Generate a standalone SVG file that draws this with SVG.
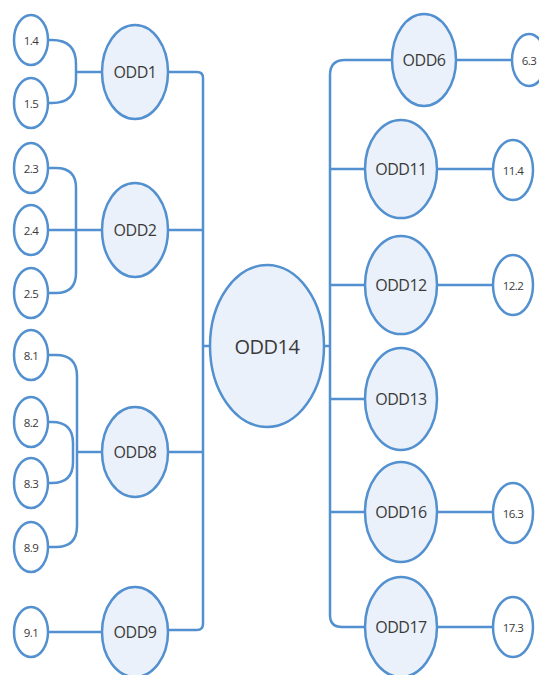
<svg xmlns="http://www.w3.org/2000/svg" width="539" height="675" viewBox="0 0 539 675">
<style>
.n{fill:#eaf1fa;stroke:#5290d0;stroke-width:2.5}
.s{fill:#ffffff;stroke:#5290d0;stroke-width:2.5}
.c{fill:none;stroke:#5290d0;stroke-width:2.5}
text{font-family:"Open Sans","Liberation Sans",sans-serif;fill:#3a3a3a;text-anchor:middle;dominant-baseline:central}
.t{font-size:16px;letter-spacing:-0.5px}
.b{font-size:20px;letter-spacing:-0.5px}
.m{font-size:11.5px;letter-spacing:-0.6px}
</style>
<rect width="539" height="675" fill="#ffffff"/>
<g id="connectors">
<path class="c" d="M48,40 H52 Q76,40 76,64 V79 Q76,103 52,103 H48"/>
<path class="c" d="M76,72 H102"/>
<path class="c" d="M48,168 H56 Q76,168 76,188 V273 Q76,293 56,293 H48"/>
<path class="c" d="M48,230 H102"/>
<path class="c" d="M48,355 H56 Q77,355 77,376 V526 Q77,547 56,547 H48"/>
<path class="c" d="M48,422 H52 Q73,422 73,443 V462 Q73,483 52,483 H48"/>
<path class="c" d="M77,452 H102"/>
<path class="c" d="M47,632 H102"/>
<path class="c" d="M168,72 H197 Q203,72 203,78 V624 Q203,630 197,630 H168"/>
<path class="c" d="M168,230 H203"/>
<path class="c" d="M168,452 H203"/>
<path class="c" d="M203,346 H210"/>
<path class="c" d="M392,60 H345 Q330,60 330,75 V615 Q330,627 342,627 H365"/>
<path class="c" d="M323,346 H330"/>
<path class="c" d="M330,169 H365"/>
<path class="c" d="M330,285 H365"/>
<path class="c" d="M330,399 H365"/>
<path class="c" d="M330,512 H365"/>
<path class="c" d="M456,60 H512"/>
<path class="c" d="M437,169 H493"/>
<path class="c" d="M437,285 H493"/>
<path class="c" d="M437,512 H493"/>
<path class="c" d="M437,627 H493"/>
</g>
<g id="n14"><ellipse class="s" cx="31" cy="40" rx="17" ry="25"/><text class="m" x="31" y="40">1.4</text></g>
<g id="n15"><ellipse class="s" cx="31" cy="103" rx="17" ry="25"/><text class="m" x="31" y="103">1.5</text></g>
<g id="n23"><ellipse class="s" cx="31" cy="168" rx="17" ry="25"/><text class="m" x="31" y="168">2.3</text></g>
<g id="n24"><ellipse class="s" cx="31" cy="230" rx="17" ry="25"/><text class="m" x="31" y="230">2.4</text></g>
<g id="n25"><ellipse class="s" cx="31" cy="293" rx="17" ry="25"/><text class="m" x="31" y="293">2.5</text></g>
<g id="n81"><ellipse class="s" cx="31" cy="355" rx="17" ry="25"/><text class="m" x="31" y="355">8.1</text></g>
<g id="n82"><ellipse class="s" cx="31" cy="422" rx="17" ry="25"/><text class="m" x="31" y="422">8.2</text></g>
<g id="n83"><ellipse class="s" cx="31" cy="483" rx="17" ry="25"/><text class="m" x="31" y="483">8.3</text></g>
<g id="n89"><ellipse class="s" cx="31" cy="547" rx="17" ry="25"/><text class="m" x="31" y="547">8.9</text></g>
<g id="n91"><ellipse class="s" cx="31" cy="632" rx="17" ry="25"/><text class="m" x="31" y="632">9.1</text></g>
<g id="odd1"><ellipse class="n" cx="135" cy="72" rx="33" ry="47"/><text class="t" x="135" y="72">ODD1</text></g>
<g id="odd2"><ellipse class="n" cx="135" cy="230" rx="33" ry="47"/><text class="t" x="135" y="230">ODD2</text></g>
<g id="odd8"><ellipse class="n" cx="135" cy="452" rx="33" ry="45"/><text class="t" x="135" y="452">ODD8</text></g>
<g id="odd9"><ellipse class="n" cx="135" cy="632" rx="33" ry="45"/><text class="t" x="135" y="632">ODD9</text></g>
<g id="odd14"><ellipse class="n" cx="267" cy="346" rx="57" ry="81"/><text class="b" x="267" y="346">ODD14</text></g>
<g id="odd6"><ellipse class="n" cx="424" cy="60" rx="32" ry="46"/><text class="t" x="424" y="60">ODD6</text></g>
<g id="odd11"><ellipse class="n" cx="401" cy="169" rx="36" ry="49"/><text class="t" x="401" y="169">ODD11</text></g>
<g id="odd12"><ellipse class="n" cx="401" cy="285" rx="36" ry="49"/><text class="t" x="401" y="285">ODD12</text></g>
<g id="odd13"><ellipse class="n" cx="401" cy="399" rx="36" ry="51"/><text class="t" x="401" y="399">ODD13</text></g>
<g id="odd16"><ellipse class="n" cx="401" cy="512" rx="36" ry="50"/><text class="t" x="401" y="512">ODD16</text></g>
<g id="odd17"><ellipse class="n" cx="401" cy="627" rx="36" ry="50"/><text class="t" x="401" y="627">ODD17</text></g>
<g id="n63"><ellipse class="s" cx="529" cy="60" rx="17" ry="26"/><text class="m" x="529" y="60">6.3</text></g>
<g id="n114"><ellipse class="s" cx="513" cy="170" rx="20" ry="30"/><text class="m" x="513" y="170">11.4</text></g>
<g id="n122"><ellipse class="s" cx="513" cy="285" rx="20" ry="30"/><text class="m" x="513" y="285">12.2</text></g>
<g id="n163"><ellipse class="s" cx="513" cy="513" rx="20" ry="30"/><text class="m" x="513" y="513">16.3</text></g>
<g id="n173"><ellipse class="s" cx="513" cy="627" rx="20" ry="30"/><text class="m" x="513" y="627">17.3</text></g>
</svg>
